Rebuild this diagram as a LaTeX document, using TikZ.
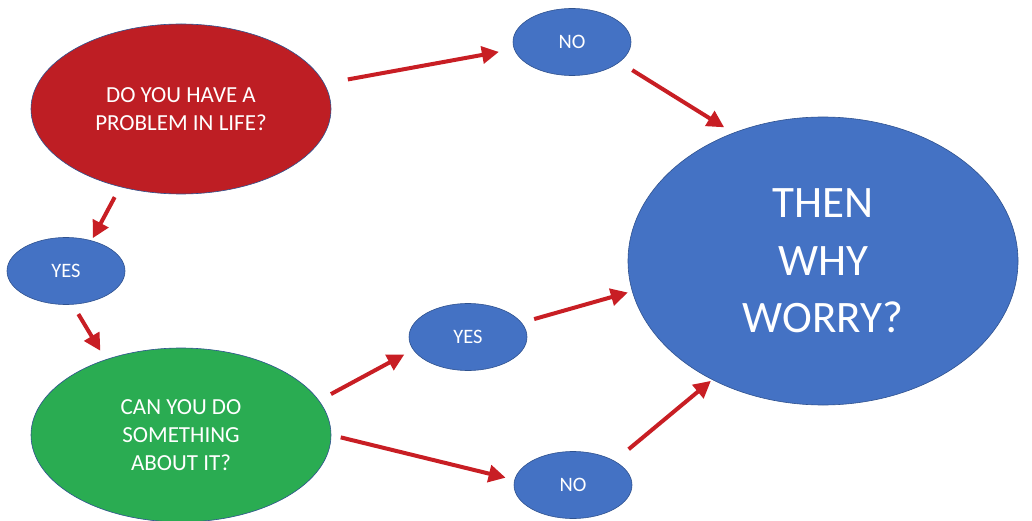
\documentclass[tikz,border=0pt]{standalone}
\usepackage{fontspec}
\setmainfont{Carlito}
\usetikzlibrary{shapes.geometric,arrows.meta}
\definecolor{pptred}{RGB}{190,30,36}
\definecolor{pptgreen}{RGB}{42,172,82}
\definecolor{pptblue}{RGB}{68,114,196}
\definecolor{outlineblue}{RGB}{47,82,143}
\definecolor{arrred}{RGB}{200,30,36}
\begin{document}
\begin{tikzpicture}[x=1pt,y=-1pt,
  bubble/.style={ellipse, draw=outlineblue, line width=0.6pt, inner sep=0pt, outer sep=0pt, text=white, align=center},
  small/.style={bubble, fill=pptblue, minimum width=118pt, minimum height=67pt, font=\fontsize{20.5}{24}\selectfont},
  question/.style={bubble, minimum width=300pt, font=\fontsize{23}{28}\selectfont},
  arr/.style={draw=arrred, line width=4pt, -{Triangle[length=17pt,width=17pt]}}]
\useasboundingbox (0,0) rectangle (1032,521);
\node[question, fill=pptred, minimum height=170pt] (red) at (181,109) {DO YOU HAVE A\\PROBLEM IN LIFE?};
\node[question, fill=pptgreen, minimum height=174pt] (green) at (181,435) {CAN YOU DO\\SOMETHING\\ABOUT IT?};
\node[small] (yes1) at (66,271) {YES};
\node[small] (no1) at (572,42) {NO};
\node[small] (yes2) at (468,337) {YES};
\node[small] (no2) at (573,485) {NO};
\node[bubble, fill=pptblue, minimum width=390pt, minimum height=288pt, font=\fontsize{45}{57.5}\selectfont] (big) at (823,261) {THEN\\WHY\\WORRY?};
\draw[arr, shorten <=24pt, shorten >=15.7pt] (red.10.9) -- (no1.187.9);
\draw[arr, shorten <=15.3pt, shorten >=10.9pt] (no1.-23.1) -- (big.125.8);
\draw[arr, shorten <=11.8pt, shorten >=2.9pt] (red.232) -- (yes1.50.7);
\draw[arr, shorten <=11.4pt, shorten >=10.4pt] (yes1.-79.9) -- (green.135.7);
\draw[arr, shorten <=13.8pt, shorten >=10.2pt] (green.14.1) -- (yes2.193.8);
\draw[arr, shorten <=10pt, shorten >=9.3pt] (green.0) -- (no2.175.8);
\draw[arr, shorten <=13.3pt, shorten >=4.7pt] (yes2.15) -- (big.189.3);
\draw[arr, shorten <=18.6pt, shorten >=2pt] (no2.30.1) -- (big.227.7);
\end{tikzpicture}
\end{document}
